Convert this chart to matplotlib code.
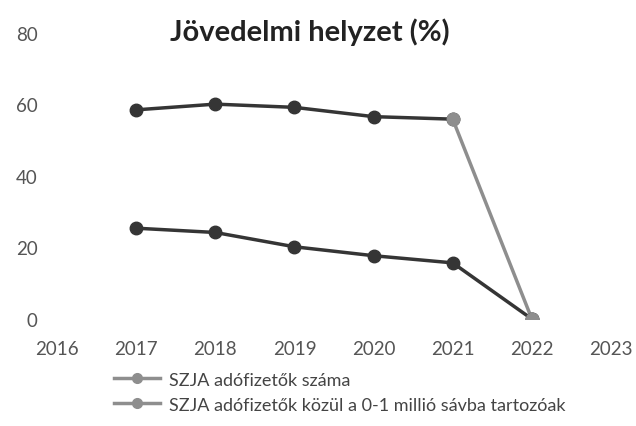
import matplotlib.pyplot as plt
from matplotlib.lines import Line2D

years = [2017, 2018, 2019, 2020, 2021, 2022]
szja_count = [58.5, 60.1, 59.2, 56.6, 55.9, 0]
szja_low_band = [25.4, 24.2, 20.2, 17.7, 15.7, 0]
labels = ["SZJA adófizetők száma",
          "SZJA adófizetők közül a 0-1 millió sávba tartozóak"]

dark = "#353535"
grey = "#8e8e8e"

plt.rcParams["font.family"] = ["Lato", "DejaVu Sans"]

fig = plt.figure(figsize=(6.36, 4.27), dpi=100)
ax = fig.add_axes([0.0896, 0.2506, 0.8711, 0.6698])

# upper line: dark up to 2021, grey drop to 2022
ax.plot(years[:5], szja_count[:5], color=dark, lw=2.5, marker="o", ms=9)
ax.plot(years[4:], szja_count[4:], color=grey, lw=2.5, marker="o", ms=9)

# lower line
ax.plot(years, szja_low_band, color=dark, lw=2.5, marker="o", ms=9)
ax.plot(years[5:], szja_low_band[5:], color=grey, lw=0, marker="o", ms=9)

ax.set_xlim(2016, 2023)
ax.set_ylim(0, 80)
ax.set_xticks(range(2016, 2024))
ax.set_yticks([0, 20, 40, 60, 80])
for s in ax.spines.values():
    s.set_visible(False)
ax.tick_params(length=0, labelsize=13.5, labelcolor="#555555")
ax.tick_params(axis="y", pad=14)
ax.tick_params(axis="x", pad=15)

fig.text(0.487, 0.925, "Jövedelmi helyzet (%)", ha="center", va="center",
         fontsize=21, fontweight="bold", color="#222222")

handles = [Line2D([], [], color=grey, lw=2.5, marker="o", ms=7) for _ in labels]
fig.legend(handles, labels, loc="upper left", bbox_to_anchor=(0.18, 0.127),
           frameon=False, fontsize=13, labelcolor="#444444",
           handlelength=2.5, handletextpad=0.5, labelspacing=0.5,
           borderaxespad=0, borderpad=0)

fig.savefig("out.png", dpi=100)
